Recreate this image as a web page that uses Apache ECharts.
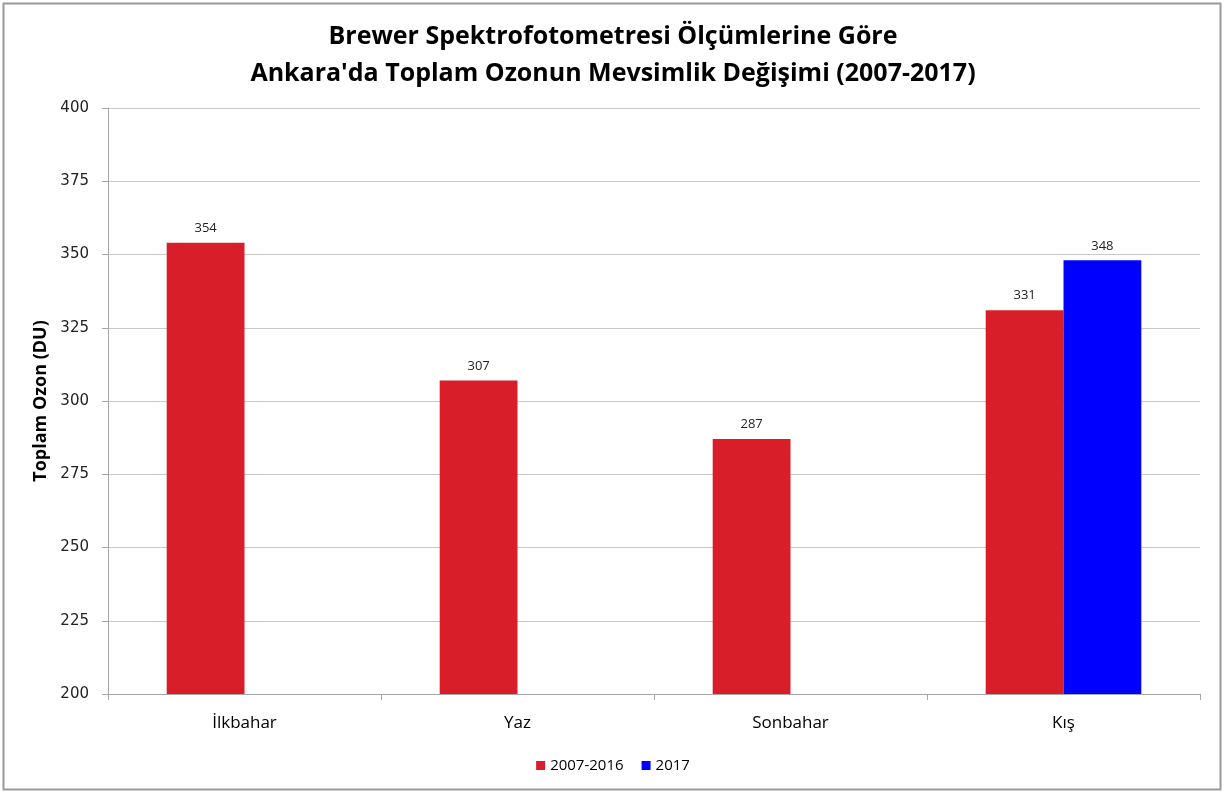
<!DOCTYPE html>
<html>
<head>
<meta charset="utf-8">
<script src="https://cdn.jsdelivr.net/npm/echarts@6/dist/echarts.min.js"></script>
<style>
html, body { margin: 0; padding: 0; background: #fff; }
#chart { width: 1226px; height: 793px; }
</style>
</head>
<body>
<div id="chart"></div>
<script>
// mevsimler ve değerler
var seasons = ['İlkbahar', 'Yaz', 'Sonbahar', 'Kış'];
var seriesNames = ['2007-2016', '2017'];
var ozon0716 = [354, 307, 287, 331];
var ozon2017 = [null, null, null, 348];
var yTicks = [200, 400, 25]; // min, max, aralık

var myChart = echarts.init(document.getElementById('chart'));

var labelStyle = {
    show: true,
    position: 'top',
    distance: 8,
    color: '#222',
    fontSize: 13,
    fontFamily: 'Open Sans'
};

var option = {
    backgroundColor: '#fff',
    animation: false,
    title: {
        text: 'Brewer Spektrofotometresi Ölçümlerine Göre\nAnkara\'da Toplam Ozonun Mevsimlik Değişimi (2007-2017)',
        left: 'center',
        top: 13,
        textStyle: {
            fontFamily: 'Open Sans',
            fontWeight: 'bold',
            fontSize: 25,
            lineHeight: 37,
            color: '#000'
        }
    },
    legend: {
        bottom: 15,
        left: 'center',
        itemWidth: 9,
        itemHeight: 9,
        itemGap: 18,
        icon: 'rect',
        textStyle: { fontSize: 15, color: '#000', fontFamily: 'Open Sans' },
        data: seriesNames
    },
    grid: {
        left: 108,
        right: 26,
        top: 108,
        bottom: 99,
        containLabel: false
    },
    xAxis: {
        type: 'category',
        data: seasons,
        axisLine: { show: true, lineStyle: { color: '#a6a6a6' } },
        axisTick: { show: true, length: 6, alignWithLabel: false, lineStyle: { color: '#a6a6a6' } },
        axisLabel: { fontSize: 17, color: '#000', margin: 21, fontFamily: 'Open Sans' }
    },
    yAxis: {
        type: 'value',
        min: yTicks[0],
        max: yTicks[1],
        interval: yTicks[2],
        name: 'Toplam Ozon (DU)',
        nameLocation: 'middle',
        nameGap: 56,
        nameRotate: 90,
        nameTextStyle: { fontSize: 18, fontWeight: 'bold', color: '#000', fontFamily: 'Open Sans' },
        axisLine: { show: true, lineStyle: { color: '#a6a6a6' } },
        axisTick: { show: true, length: 6, lineStyle: { color: '#a6a6a6' } },
        axisLabel: { fontSize: 15, color: '#222', margin: 19, fontFamily: 'DejaVu Sans' },
        splitLine: { lineStyle: { color: '#c8c8c8', width: 1 } }
    },
    series: [
        {
            name: seriesNames[0],
            type: 'bar',
            data: ozon0716,
            barGap: '0%',
            barCategoryGap: '43%',
            itemStyle: { color: '#d81e28' },
            label: labelStyle
        },
        {
            name: seriesNames[1],
            type: 'bar',
            data: ozon2017,
            barGap: '0%',
            barCategoryGap: '43%',
            itemStyle: { color: '#0000ff' },
            label: labelStyle
        }
    ],
    graphic: [{
        type: 'rect',
        shape: { x: 3.5, y: 3.5, width: 1217, height: 786 },
        style: { fill: null, stroke: '#9a9a9a', lineWidth: 2 },
        silent: true
    }]
};

myChart.setOption(option);

window.addEventListener('resize', function () {
    myChart.resize();
});
</script>
</body>
</html>
